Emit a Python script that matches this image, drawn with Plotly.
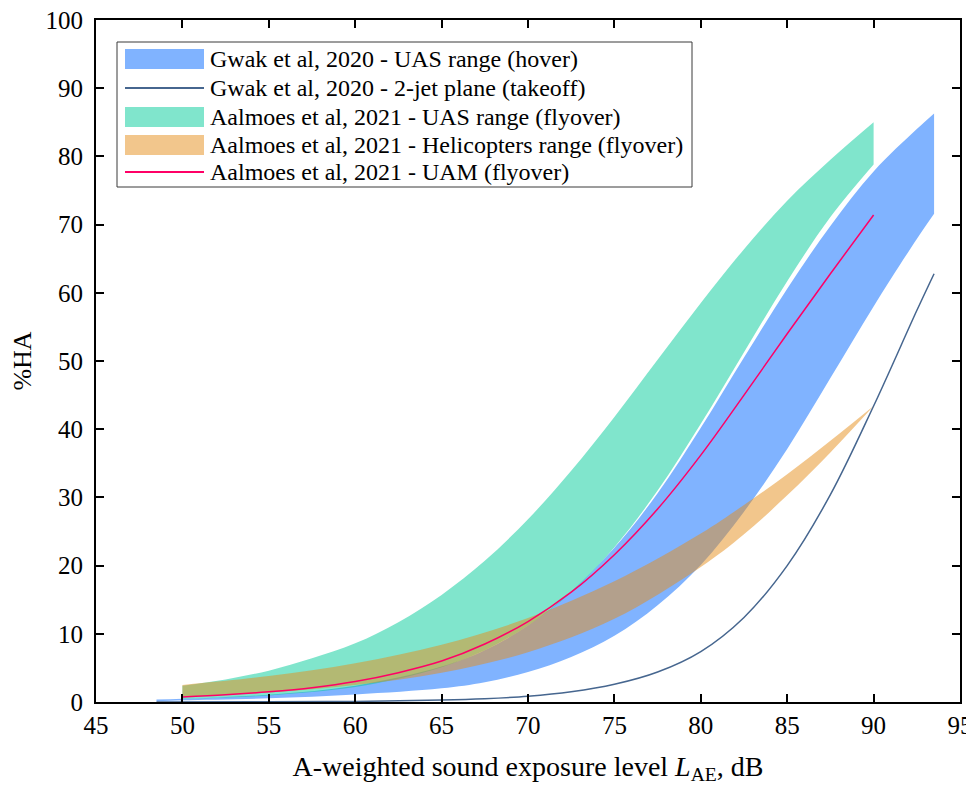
import plotly.graph_objects as go

# ---------------- data ----------------
# Gwak et al, 2020 - UAS range (hover)
gwak_uas_x = [48.5, 50, 55, 60, 65, 67.5, 70, 72.5, 75, 77.5, 80, 82.5, 85, 87.5, 90, 92.5, 93.5]
gwak_uas_lo = [0.1, 0.25, 0.55, 1.1, 2.0, 2.9, 4.4, 6.6, 9.7, 14.2, 20.1, 27.9, 37.1, 47.5, 58.0, 67.9, 71.6]
gwak_uas_hi = [0.37, 0.47, 1.08, 2.4, 5.2, 7.6, 11.2, 16.2, 22.6, 30.6, 40.2, 50.5, 60.6, 69.8, 77.8, 84.0, 86.3]

# Gwak et al, 2020 - 2-jet plane (takeoff)
gwak_jet_x = [48.5, 55, 60, 65, 67.5, 70, 72.5, 75, 77.5, 80, 82.5, 85, 87.5, 90, 92.5, 93.5]
gwak_jet_y = [0.01, 0.03, 0.09, 0.28, 0.48, 0.84, 1.5, 2.6, 4.4, 7.4, 12.4, 20.0, 30.4, 43.4, 57.4, 62.8]

# Aalmoes et al, 2021 - UAS range (flyover)
aal_uas_x = [50, 52.5, 55, 57.5, 60, 62.5, 65, 67.5, 70, 72.5, 75, 77.5, 80, 82.5, 85, 87.5, 90]
aal_uas_lo = [0.45, 0.65, 0.97, 1.45, 2.2, 3.4, 5.1, 7.6, 11.2, 16.1, 22.7, 31.0, 40.8, 51.3, 61.7, 71.1, 78.8]
aal_uas_hi = [2.4, 3.3, 4.6, 6.4, 8.6, 11.7, 15.7, 20.7, 26.8, 33.9, 41.8, 50.2, 58.5, 66.4, 73.5, 79.5, 85.0]

# Aalmoes et al, 2021 - Helicopters range (flyover)
aal_heli_x = [50, 55, 60, 65, 70, 75, 80, 82.5, 85, 87.5, 90]
aal_heli_lo = [0.8, 1.4, 2.5, 4.3, 7.3, 12.2, 19.8, 24.6, 30.3, 36.6, 43.4]
aal_heli_hi = [2.5, 3.8, 5.7, 8.4, 12.3, 17.7, 24.7, 28.9, 33.4, 38.3, 43.4]

# Aalmoes et al, 2021 - UAM (flyover)
aal_uam_x = [50, 52.5, 55, 57.5, 60, 62.5, 65, 67.5, 70, 72.5, 75, 77.5, 80, 82.5, 85, 87.5, 90]
aal_uam_y = [0.75, 1.05, 1.5, 2.1, 3.0, 4.3, 6.0, 8.5, 11.8, 16.1, 21.6, 28.3, 36.2, 45.0, 54.0, 62.8, 71.4]

x_ticks = [45, 50, 55, 60, 65, 70, 75, 80, 85, 90, 95]
y_ticks = [0, 10, 20, 30, 40, 50, 60, 70, 80, 90, 100]

names = [
    "Gwak et al, 2020 - UAS range (hover)",
    "Gwak et al, 2020 - 2-jet plane (takeoff)",
    "Aalmoes et al, 2021 - UAS range (flyover)",
    "Aalmoes et al, 2021 - Helicopters range (flyover)",
    "Aalmoes et al, 2021 - UAM (flyover)",
]

BLUE = "rgba(1,103,255,0.5)"
GREEN = "rgba(1,203,153,0.5)"
ORANGE = "rgba(229,141,25,0.5)"
JET = "#46668f"
PINK = "#ff0066"

FONT = "Liberation Serif"
SM = 1.0

# the page body adds an 8 px offset, so the figure is 8 px smaller than the window
OFF = 8
W, H = 966, 778
ML, MR, MT, MB = 88, 14, 12, 84
PW, PH = W - ML - MR, H - MT - MB

fig = go.Figure()


def band(x, lo, hi, color, name):
    fig.add_trace(go.Scatter(x=x, y=lo, mode="lines", line=dict(width=0, shape="spline", smoothing=SM),
                             showlegend=False, hoverinfo="skip"))
    fig.add_trace(go.Scatter(x=x, y=hi, mode="lines", line=dict(width=0, shape="spline", smoothing=SM),
                             fill="tonexty", fillcolor=color, name=name, showlegend=False))


band(gwak_uas_x, gwak_uas_lo, gwak_uas_hi, BLUE, names[0])
fig.add_trace(go.Scatter(x=gwak_jet_x, y=gwak_jet_y, mode="lines", name=names[1], showlegend=False,
                         line=dict(color=JET, width=1.5, shape="spline", smoothing=SM)))
band(aal_uas_x, aal_uas_lo, aal_uas_hi, GREEN, names[2])
band(aal_heli_x, aal_heli_lo, aal_heli_hi, ORANGE, names[3])
fig.add_trace(go.Scatter(x=aal_uam_x, y=aal_uam_y, mode="lines", name=names[4], showlegend=False,
                         line=dict(color=PINK, width=1.5, shape="spline", smoothing=SM)))

axis_common = dict(showline=True, linecolor="black", linewidth=2, mirror="ticks",
                   ticks="inside", ticklen=8, tickwidth=2, tickcolor="black",
                   showgrid=False, zeroline=False, automargin=False,
                   ticklabeloverflow="allow",
                   tickfont=dict(family=FONT, size=25, color="black"))

fig.update_xaxes(range=[45, 95], tickvals=x_ticks, ticktext=[str(v) for v in x_ticks],
                 title=dict(text="A-weighted sound exposure level <i>L</i><sub>AE</sub>, dB",
                            font=dict(family=FONT, size=28, color="black"), standoff=18),
                 **axis_common)
fig.update_yaxes(range=[0, 100], tickvals=y_ticks, ticktext=[str(v) for v in y_ticks],
                 ticklabelstandoff=6,
                 title=dict(text="%HA", font=dict(family=FONT, size=26, color="black"), standoff=22),
                 **axis_common)


# ---------------- manual legend (window pixel positions converted to paper) ----------------
def px(xw):
    return (xw - OFF - ML) / PW


def py(yw):
    return (H - MB - (yw - OFF)) / PH


shapes = [dict(type="rect", xref="paper", yref="paper", x0=px(117), x1=px(692), y0=py(42), y1=py(187),
               fillcolor="white", line=dict(color="#3a3a3a", width=1), layer="above")]
row_y = [59, 88, 117, 145, 172]
kinds = [("fill", BLUE), ("line", JET), ("fill", GREEN), ("fill", ORANGE), ("line", PINK)]
annotations = []
for (kind, col), yy, nm in zip(kinds, row_y, names):
    if kind == "fill":
        shapes.append(dict(type="rect", xref="paper", yref="paper", x0=px(125), x1=px(204),
                           y0=py(yy - 10), y1=py(yy + 10), fillcolor=col, line=dict(width=0),
                           layer="above"))
    else:
        shapes.append(dict(type="line", xref="paper", yref="paper", x0=px(125), x1=px(204),
                           y0=py(yy), y1=py(yy), line=dict(color=col, width=2), layer="above"))
    annotations.append(dict(xref="paper", yref="paper", x=px(208), y=py(yy), text=nm,
                            showarrow=False, xanchor="left", yanchor="middle",
                            font=dict(family=FONT, size=24, color="black")))

fig.update_layout(
    width=W, height=H,
    margin=dict(l=ML, r=MR, t=MT, b=MB),
    plot_bgcolor="white", paper_bgcolor="white",
    font=dict(family=FONT, color="black"),
    showlegend=False,
    shapes=shapes,
    annotations=annotations,
)

fig.write_html("out.html")
